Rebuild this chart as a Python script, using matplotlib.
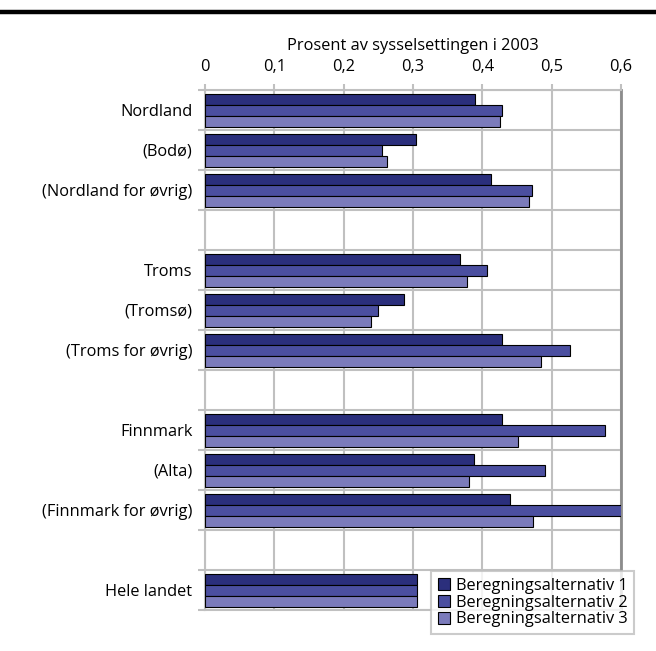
import numpy as np
import matplotlib
matplotlib.use("Agg")
import matplotlib.pyplot as plt
from matplotlib.ticker import FuncFormatter

plt.rcParams['font.family'] = ['Open Sans', 'DejaVu Sans']

# categories, blank strings are empty rows in the chart
categories = ['Nordland', '(Bodø)', '(Nordland for øvrig)', '',
              'Troms', '(Tromsø)', '(Troms for øvrig)', '',
              'Finnmark', '(Alta)', '(Finnmark for øvrig)', '',
              'Hele landet']
alt1 = [0.390, 0.304, 0.412, np.nan, 0.368, 0.287, 0.429, np.nan,
        0.428, 0.388, 0.440, np.nan, 0.306]
alt2 = [0.428, 0.256, 0.471, np.nan, 0.407, 0.250, 0.527, np.nan,
        0.577, 0.491, 0.603, np.nan, 0.306]
alt3 = [0.426, 0.263, 0.468, np.nan, 0.378, 0.240, 0.485, np.nan,
        0.451, 0.381, 0.473, np.nan, 0.306]
series_names = ['Beregningsalternativ 1', 'Beregningsalternativ 2',
                'Beregningsalternativ 3']
colors = ['#2b2f7c', '#4b4fa0', '#7b7bbb']
xticks = [0, 0.1, 0.2, 0.3, 0.4, 0.5, 0.6]
xlabel = 'Prosent av sysselsettingen i 2003'

fs = 11.8
fig = plt.figure(figsize=(6.56, 6.51), dpi=100)
ax = fig.add_axes([205 / 656, 1 - 610 / 651, 416 / 656, 520 / 651])

# thick rule at the top of the page
fig.add_artist(plt.Line2D([0, 1], [1 - 11.5 / 651, 1 - 11.5 / 651],
                          color='black', lw=3.2, transform=fig.transFigure))

y = np.arange(len(categories))
h = 0.275
for i, (vals, name, c) in enumerate(zip([alt1, alt2, alt3], series_names, colors)):
    ax.barh(y + (i - 1) * h, vals, height=h, color=c, edgecolor='black',
            linewidth=0.8, label=name, zorder=3)

ax.set_xlim(0, 0.6)
ax.set_ylim(len(categories) - 0.5, -0.5)

grid_c = '#c0c0c0'
ax.xaxis.tick_top()
ax.xaxis.set_label_position('top')
ax.set_xticks(xticks)
ax.xaxis.set_major_formatter(FuncFormatter(lambda v, p: ('%g' % v).replace('.', ',')))
ax.set_xlabel(xlabel, fontsize=fs, labelpad=7)
ax.tick_params(axis='x', length=4.5, width=1.5, color=grid_c, labelsize=fs, pad=6)

ax.set_yticks(y)
ax.set_yticklabels(categories, fontsize=fs)
ax.set_yticks(np.arange(len(categories) + 1) - 0.5, minor=True)
ax.tick_params(axis='y', which='major', length=0, pad=9)
ax.tick_params(axis='y', which='minor', length=5, width=1.5, color=grid_c)

ax.grid(True, axis='x', which='major', color=grid_c, lw=1.5, zorder=0)
ax.grid(True, axis='y', which='minor', color=grid_c, lw=1.5, zorder=0)

for s in ['top', 'bottom', 'left']:
    ax.spines[s].set_color(grid_c)
    ax.spines[s].set_linewidth(1.5)
ax.spines['right'].set_color('#8c8c8c')
ax.spines['right'].set_linewidth(2)

leg = ax.legend(loc='lower right', bbox_to_anchor=(634 / 656, 1 - 634 / 651),
                bbox_transform=fig.transFigure, fontsize=fs, frameon=True,
                fancybox=False, handlelength=0.75, handleheight=0.75,
                handletextpad=0.35, borderpad=0.4, labelspacing=0.05,
                borderaxespad=0)
leg.get_frame().set_edgecolor('#bfbfbf')
leg.get_frame().set_linewidth(1.5)
leg.set_zorder(5)

fig.savefig('out.png', dpi=100)
